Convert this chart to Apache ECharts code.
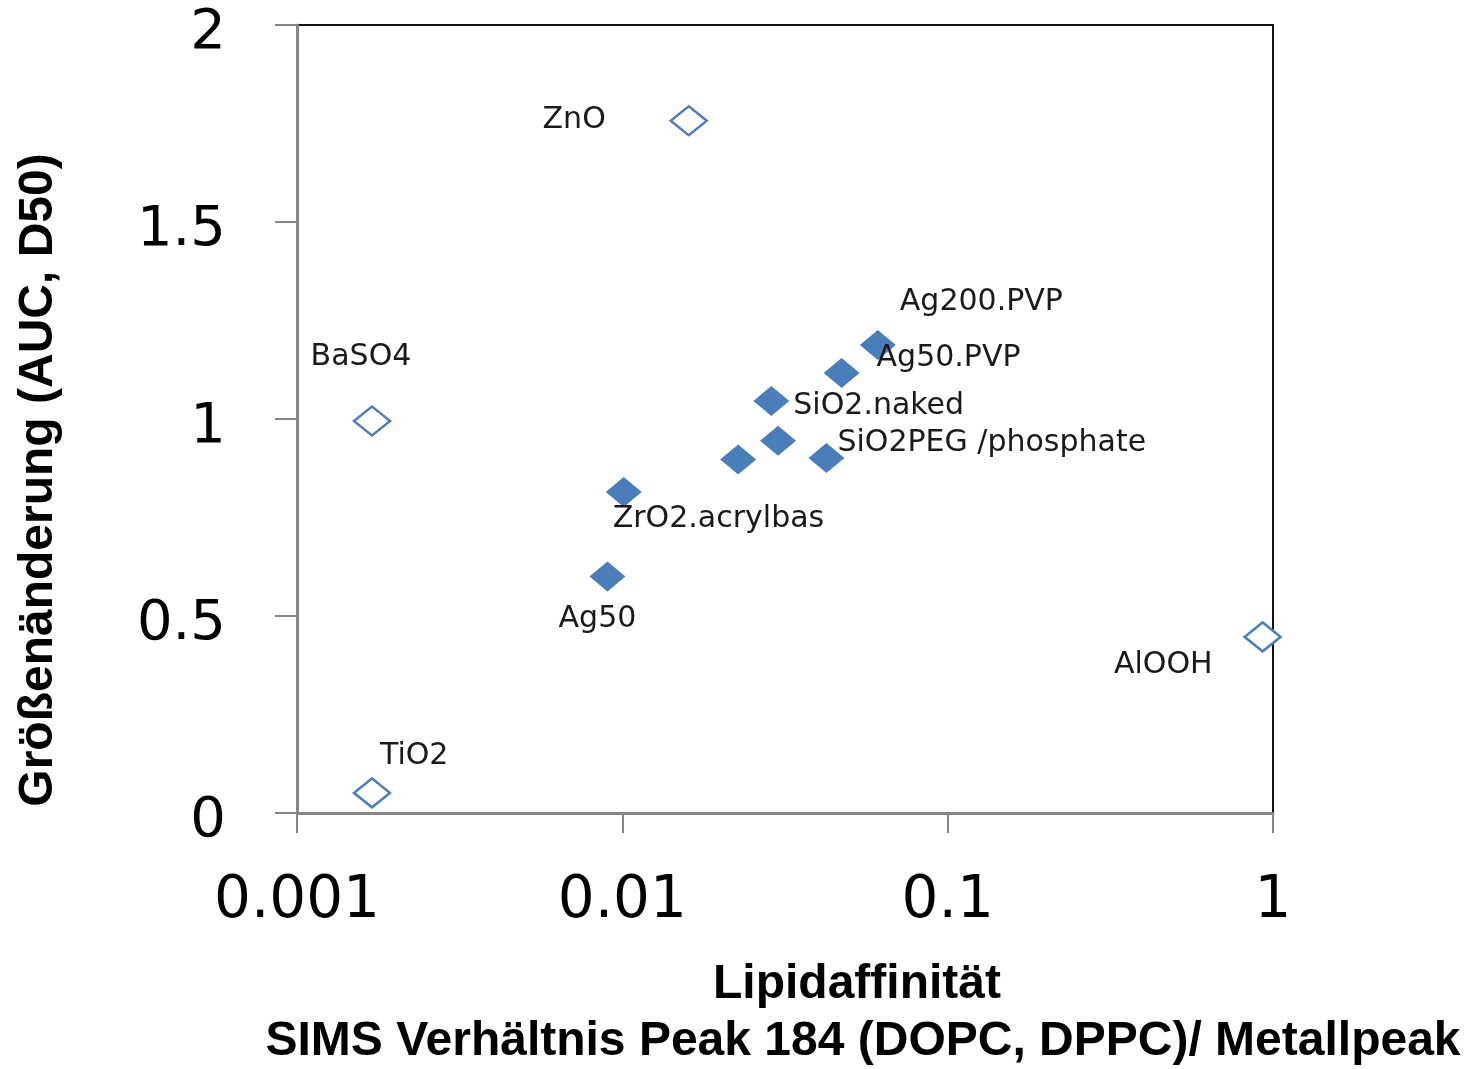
<!DOCTYPE html>
<html>
<head>
<meta charset="utf-8">
<title>Größenänderung vs. Lipidaffinität</title>
<script src="https://cdn.jsdelivr.net/npm/echarts@6/dist/echarts.min.js"></script>
<style>
  html, body { margin: 0; padding: 0; background: #fff; }
  #chart { width: 1467px; height: 1069px; }
</style>
</head>
<body>
<div id="chart"></div>
<script>
// Particles shown as open diamonds
const openNames = ['ZnO', 'BaSO4', 'TiO2', 'AlOOH'];
const openAffinity = [0.0160, 0.0017, 0.0017, 0.929];
const openSizeChange = [1.757, 0.995, 0.051, 0.447];

// Particles shown as filled diamonds (two points carry no label)
const filledNames = ['Ag200.PVP', 'Ag50.PVP', 'SiO2.naked', '', '', 'SiO2PEG /phosphate', 'ZrO2.acrylbas', 'Ag50'];
const filledAffinity = [0.0610, 0.0472, 0.0287, 0.0301, 0.0227, 0.0424, 0.0101, 0.0090];
const filledSizeChange = [1.188, 1.117, 1.046, 0.945, 0.897, 0.901, 0.815, 0.600];

// Axis ticks
const xTicks = [0.001, 0.01, 0.1, 1];
const yTicks = [0, 0.5, 1, 1.5, 2];

const yTitle = 'Größenänderung (AUC, D50)';
const xTitle1 = 'Lipidaffinität';
const xTitle2 = 'SIMS Verhältnis Peak 184 (DOPC, DPPC)/ Metallpeak';

// Where each label sits relative to its marker centre
const labelPlacement = {
  'ZnO': { align: 'right', offset: [-83, -1] },
  'BaSO4': { align: 'center', offset: [-11, -64] },
  'TiO2': { align: 'left', offset: [8, -37] },
  'AlOOH': { align: 'right', offset: [-50, 28] },
  'Ag200.PVP': { align: 'left', offset: [22, -43] },
  'Ag50.PVP': { align: 'left', offset: [35, -15] },
  'SiO2.naked': { align: 'left', offset: [22, 5] },
  'SiO2PEG /phosphate': { align: 'left', offset: [11, -15] },
  'ZrO2.acrylbas': { align: 'left', offset: [-11, 27] },
  'Ag50': { align: 'center', offset: [-10, 43] }
};

const BLUE = '#4a7ebb';

function buildPoints(names, xs, ys) {
  return names.map((n, i) => {
    const p = labelPlacement[n];
    const item = { name: n, value: [xs[i], ys[i]] };
    if (p) {
      item.label = { show: true, position: 'inside', align: p.align, verticalAlign: 'middle', offset: p.offset };
    } else {
      item.label = { show: false };
    }
    return item;
  });
}

const labelStyle = {
  formatter: '{b}',
  fontFamily: 'DejaVu Sans',
  fontSize: 30,
  color: '#1a1a1a'
};

const chart = echarts.init(document.getElementById('chart'), null, { renderer: 'canvas' });

chart.setOption({
  animation: false,
  backgroundColor: '#ffffff',
  grid: {
    left: 297, top: 25, width: 976, height: 788,
    show: true, borderColor: '#111111', borderWidth: 2, backgroundColor: 'transparent'
  },
  xAxis: {
    type: 'log',
    logBase: 10,
    min: xTicks[0],
    max: xTicks[xTicks.length - 1],
    splitLine: { show: false },
    axisLine: { show: true, lineStyle: { color: '#868686', width: 3 } },
    axisTick: { show: true, inside: false, length: 20, lineStyle: { color: '#868686', width: 2 } },
    minorTick: { show: false },
    axisLabel: {
      margin: 60,
      fontFamily: 'DejaVu Sans',
      fontSize: 58,
      color: '#000',
      formatter: v => {
        const t = xTicks.find(x => Math.abs(Math.log10(x) - Math.log10(v)) < 1e-6);
        return t !== undefined ? String(t) : '';
      }
    }
  },
  yAxis: {
    type: 'value',
    min: yTicks[0],
    max: yTicks[yTicks.length - 1],
    interval: 0.5,
    splitLine: { show: false },
    axisLine: { show: true, lineStyle: { color: '#868686', width: 3 } },
    axisTick: { show: true, inside: false, length: 22, lineStyle: { color: '#868686', width: 2 } },
    axisLabel: {
      margin: 71,
      fontFamily: 'DejaVu Sans',
      fontSize: 56,
      color: '#000',
      formatter: v => '{v|' + v + '}',
      rich: {
        v: { fontFamily: 'DejaVu Sans', fontSize: 56, color: '#000', padding: [16, 0, 0, 0] }
      }
    }
  },
  series: [
    {
      name: 'open',
      type: 'scatter',
      clip: false,
      symbol: 'diamond',
      symbolSize: [36, 29],
      itemStyle: { color: '#ffffff', borderColor: BLUE, borderWidth: 2.5, opacity: 1 },
      label: labelStyle,
      data: buildPoints(openNames, openAffinity, openSizeChange),
      z: 3
    },
    {
      name: 'filled',
      type: 'scatter',
      clip: false,
      symbol: 'diamond',
      symbolSize: [36, 30],
      itemStyle: { color: BLUE, opacity: 1 },
      label: labelStyle,
      data: buildPoints(filledNames, filledAffinity, filledSizeChange),
      z: 3
    }
  ],
  graphic: [
    {
      type: 'text',
      x: 39, y: 480,
      rotation: Math.PI / 2,
      style: {
        text: yTitle,
        fontFamily: 'Liberation Sans',
        fontWeight: 'bold',
        fontSize: 48,
        fill: '#000',
        align: 'center',
        verticalAlign: 'middle'
      }
    },
    {
      type: 'text',
      x: 857, y: 985,
      style: {
        text: xTitle1,
        fontFamily: 'Liberation Sans',
        fontWeight: 'bold',
        fontSize: 48,
        fill: '#000',
        align: 'center',
        verticalAlign: 'middle'
      }
    },
    {
      type: 'text',
      x: 863, y: 1042,
      style: {
        text: xTitle2,
        fontFamily: 'Liberation Sans',
        fontWeight: 'bold',
        fontSize: 48,
        fill: '#000',
        align: 'center',
        verticalAlign: 'middle'
      }
    }
  ]
});
</script>
</body>
</html>
